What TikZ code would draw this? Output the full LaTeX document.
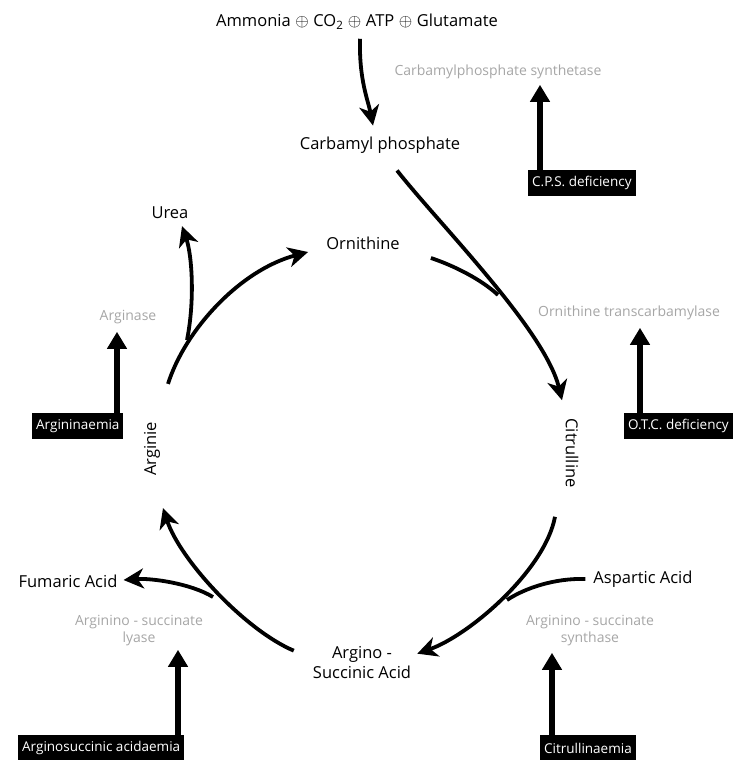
\documentclass[tikz,border=0pt]{standalone}
\usepackage{fontspec}
\setmainfont{Open Sans}
\usetikzlibrary{arrows.meta}
\tikzset{
	met/.style = {font=\fontsize{16.5}{20}\selectfont, inner sep=1pt},
	enz/.style = {font=\fontsize{14}{17}\selectfont, text=black!35, align=center, inner sep=1pt},
	defect/.style = {fill=black, text=white, font=\fontsize{13.5}{16}\selectfont, inner sep=4pt, minimum height=26pt},
	flow/.style = {line width=3.8pt, -{Stealth[length=20pt, width=20pt, inset=6pt]}},
	branch/.style = {line width=3.8pt},
	block/.style = {line width=5.5pt, -{Triangle[length=17pt, width=19pt]}}
}
\begin{document}
\begin{tikzpicture}[x=1pt, y=-1pt]
	\useasboundingbox (0,0) rectangle (739,760);
	\node[met] (amm) at (357,22) {Ammonia\;$\oplus$\;CO\textsubscript{2}\;$\oplus$\;ATP\;$\oplus$\;Glutamate};
	\node[met] (carb) at (380,145) {Carbamyl phosphate};
	\node[met] (orn) at (363,243) {Ornithine};
	\node[met] (urea) at (170,213) {Urea};
	\node[met, rotate=90] (arg) at (152,449) {Arginie};
	\node[met, rotate=-90] (cit) at (572,453) {Citrulline};
	\node[met] (asp) at (643,579) {Aspartic Acid};
	\node[met] (fum) at (68,581) {Fumaric Acid};
	\node[met, align=center] (asa) at (362,663) {Argino -\\Succinic Acid};
	\node[enz] (cps) at (498,72) {Carbamylphosphate synthetase};
	\node[enz] (otc) at (629,313) {Ornithine transcarbamylase};
	\node[enz] (ase) at (128,317) {Arginase};
	\node[enz] (asl) at (139,631) {Arginino - succinate\\lyase};
	\node[enz] (ass) at (590,631) {Arginino - succinate\\synthase};
	\node[defect, anchor=west] (cpsd) at (528,183) {C.P.S. deficiency};
	\node[defect, anchor=west] (otcd) at (624,426) {O.T.C. deficiency};
	\node[defect, anchor=west] (argd) at (32,426) {Argininaemia};
	\node[defect, anchor=west] (asad) at (18,748) {Arginosuccinic acidaemia};
	\node[defect, anchor=west] (citd) at (540,748) {Citrullinaemia};
	\coordinate (m1) at (498,295);
	\coordinate (m2) at (507,600);
	\coordinate (m3) at (213,597);
	\coordinate (m4) at (187,340);
	% cycle
	\draw[flow] (amm.south) ++(3,8) .. controls (359,80) and (368,100) .. ([shift={(-7,-10)}]carb.north);
	\draw[flow] (carb.south) ++(17,16) .. controls (440,225) and (545,330) .. ([shift={(-10,-17)}]cit.west);
	\draw[branch] (orn.east) ++(30,15) .. controls (455,266) and (482,280) .. (m1);
	\draw[flow] (cit.east) ++(-17,28) .. controls (545,570) and (470,635) .. ([shift={(5,8)}]asa.north east);
	\draw[branch] (asp.west) ++(-7,0) .. controls (555,578) and (525,588) .. (m2);
	\draw[flow] (asa.north west) ++(-18,5) .. controls (245,630) and (180,560) .. ([shift={(11,31)}]arg.west);
	\draw[flow] (m3) .. controls (190,583) and (150,578) .. ([shift={(5,-1)}]fum.east);
	\draw[flow] (arg.east) ++(16,-37) .. controls (185,330) and (240,270) .. ([shift={(-17,9)}]orn.west);
	\draw[flow] (m4) .. controls (195,300) and (192,255) .. ([shift={(12,6)}]urea.south);
	% defects
	\draw[block] (cpsd.north west) ++(12,0) -- ++(0,-85);
	\draw[block] (otcd.north west) ++(16,0) -- ++(0,-85);
	\draw[block] (argd.north west) ++(85,0) -- ++(0,-81);
	\draw[block] (asad.north west) ++(160,0) -- ++(0,-85);
	\draw[block] (citd.north west) ++(12,0) -- ++(0,-82);
\end{tikzpicture}
\end{document}
